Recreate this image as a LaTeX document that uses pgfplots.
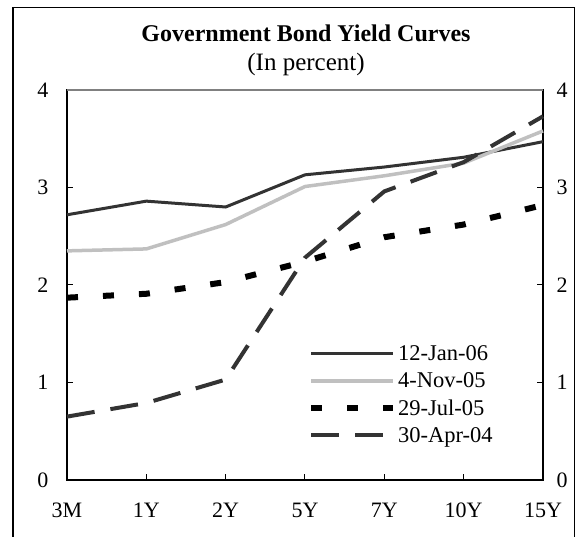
\documentclass[border=0pt]{standalone}
\usepackage{pgfplots}
\pgfplotsset{compat=1.18}
\usepackage{fontspec}
\setmainfont{Liberation Serif}
\definecolor{dk}{HTML}{333333}
\definecolor{lt}{HTML}{C0C0C0}
\begin{document}
\begin{tikzpicture}[x=1pt,y=1pt]
\useasboundingbox (0,0) rectangle (576,537);
\draw[line width=1.2pt] (12.9,-2) -- (12.9,529.5) -- (574.5,529.5) -- (574.5,-2);
\node[font=\fontsize{24}{28}\selectfont\bfseries, anchor=base] at (306,495) {Government Bond Yield Curves};
\node[font=\fontsize{25}{29}\selectfont, anchor=base] at (306,466) {(In percent)};
\begin{axis}[at={(67pt,57pt)}, anchor=south west, scale only axis, width=476pt, height=390pt,
 xmin=0,xmax=6,ymin=0,ymax=4,
 xtick={0,...,6}, xticklabels={3M,1Y,2Y,5Y,7Y,10Y,15Y},
 ytick={0,...,4},
 tick align=inside, major tick length=6pt,
 xtick pos=bottom, ytick pos=both, yticklabel pos=left,
 ticklabel style={font=\fontsize{22}{26}\selectfont},
 /pgf/number format/assume math mode=true,
 xticklabel style={anchor=base, yshift=-38pt},
 yticklabel style={anchor=center, xshift=-24pt},
 axis line style={line width=1.2pt},
 tick style={black, line width=1pt},
 legend style={at={(rel axis cs:0.506,0.35)}, anchor=north west, draw=none, fill=none, inner sep=0pt,
   font=\fontsize{22.5}{24}\selectfont, cells={anchor=west}, row sep=6.5pt},
 legend image code/.code={\draw[#1] (0pt,0pt) -- (82pt,0pt);},
 clip=false
]
\addplot[dk, line width=3pt] coordinates {(0,2.72) (1,2.86) (2,2.80) (3,3.13) (4,3.21) (5,3.31) (6,3.47)};
\addlegendentry{12-Jan-06}
\addplot[lt, line width=3.5pt] coordinates {(0,2.35) (1,2.37) (2,2.62) (3,3.01) (4,3.12) (5,3.25) (6,3.58)};
\addlegendentry{4-Nov-05}
\addplot[black, line width=6pt, dash pattern=on 11pt off 25pt] coordinates {(0,1.87) (1,1.91) (2,2.03) (3,2.24) (4,2.49) (5,2.62) (6,2.82)};
\addlegendentry{29-Jul-05}
\addplot[dk, line width=4pt, dash pattern=on 28pt off 16pt] coordinates {(0,0.65) (1,0.79) (2,1.03) (3,2.28) (4,2.96) (5,3.26) (6,3.73)};
\addlegendentry{30-Apr-04}
\draw[gray, line width=1.3pt] (rel axis cs:0,1) -- (rel axis cs:1,1);
\end{axis}
\begin{axis}[at={(67pt,57pt)}, anchor=south west, scale only axis, width=476pt, height=390pt,
 xmin=0,xmax=6,ymin=0,ymax=4, ytick={0,...,4},
 axis x line=none, axis y line*=right, axis line style={draw=none}, tick style={draw=none},
 ticklabel style={font=\fontsize{22}{26}\selectfont},
 /pgf/number format/assume math mode=true,
 yticklabel style={anchor=center, xshift=19pt}]
\end{axis}
\end{tikzpicture}
\end{document}
